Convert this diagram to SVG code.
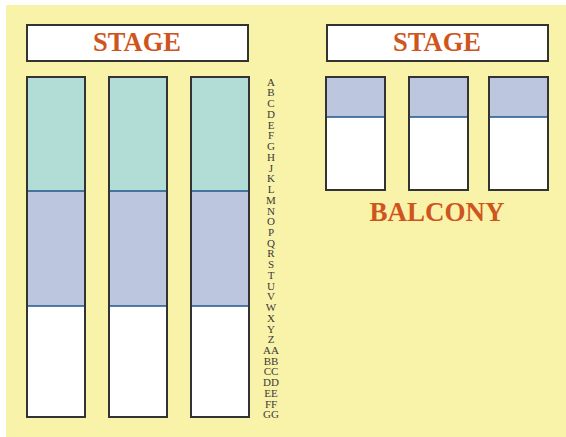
<svg xmlns="http://www.w3.org/2000/svg" width="566" height="437" viewBox="0 0 566 437">
<style>
.stage{fill:#fff;stroke:#333;stroke-width:2}
.title{font-family:"Liberation Serif",serif;font-weight:bold;fill:#cf5520;text-anchor:middle}
.teal{fill:#b1ddd6}
.blue{fill:#bcc6df}
.div{stroke:#1f568a;stroke-width:1.5}
.row{font-family:"Liberation Serif",serif;font-size:11px;fill:#3a3a3a;text-anchor:middle}
</style>
<rect x="6" y="5" width="560" height="432" fill="#f9f2a9"/>
<g id="stage-main">
<rect class="stage" x="27" y="25" width="221" height="36"/>
<text class="title" x="137" y="51" font-size="26.5">STAGE</text>
</g>
<g id="stage-balcony">
<rect class="stage" x="327" y="25" width="221" height="36"/>
<text class="title" x="437" y="51" font-size="26.5">STAGE</text>
</g>
<g id="orch-1">
<rect class="teal" x="27" y="77" width="58" height="114"/>
<rect class="blue" x="27" y="191" width="58" height="115"/>
<rect x="27" y="306" width="58" height="111" fill="#fff"/>
<line class="div" x1="27" y1="191" x2="85" y2="191"/>
<line class="div" x1="27" y1="306" x2="85" y2="306"/>
<rect x="27" y="77" width="58" height="340" fill="none" stroke="#333" stroke-width="2"/>
</g>
<g id="orch-2">
<rect class="teal" x="109" y="77" width="58" height="114"/>
<rect class="blue" x="109" y="191" width="58" height="115"/>
<rect x="109" y="306" width="58" height="111" fill="#fff"/>
<line class="div" x1="109" y1="191" x2="167" y2="191"/>
<line class="div" x1="109" y1="306" x2="167" y2="306"/>
<rect x="109" y="77" width="58" height="340" fill="none" stroke="#333" stroke-width="2"/>
</g>
<g id="orch-3">
<rect class="teal" x="191" y="77" width="58" height="114"/>
<rect class="blue" x="191" y="191" width="58" height="115"/>
<rect x="191" y="306" width="58" height="111" fill="#fff"/>
<line class="div" x1="191" y1="191" x2="249" y2="191"/>
<line class="div" x1="191" y1="306" x2="249" y2="306"/>
<rect x="191" y="77" width="58" height="340" fill="none" stroke="#333" stroke-width="2"/>
</g>
<g id="balc-1">
<rect class="blue" x="326" y="77" width="59" height="40"/>
<rect x="326" y="117" width="59" height="73" fill="#fff"/>
<line class="div" x1="326" y1="117" x2="385" y2="117"/>
<rect x="326" y="77" width="59" height="113" fill="none" stroke="#333" stroke-width="2"/>
</g>
<g id="balc-2">
<rect class="blue" x="409" y="77" width="59" height="40"/>
<rect x="409" y="117" width="59" height="73" fill="#fff"/>
<line class="div" x1="409" y1="117" x2="468" y2="117"/>
<rect x="409" y="77" width="59" height="113" fill="none" stroke="#333" stroke-width="2"/>
</g>
<g id="balc-3">
<rect class="blue" x="489" y="77" width="59" height="40"/>
<rect x="489" y="117" width="59" height="73" fill="#fff"/>
<line class="div" x1="489" y1="117" x2="548" y2="117"/>
<rect x="489" y="77" width="59" height="113" fill="none" stroke="#333" stroke-width="2"/>
</g>
<g id="balcony-label">
<text class="title" x="437" y="221" font-size="27">BALCONY</text>
</g>
<g id="rows" class="row">
<text x="271" y="85.7">A</text>
<text x="271" y="96.4">B</text>
<text x="271" y="107.2">C</text>
<text x="271" y="117.9">D</text>
<text x="271" y="128.6">E</text>
<text x="271" y="139.4">F</text>
<text x="271" y="150.1">G</text>
<text x="271" y="160.8">H</text>
<text x="271" y="171.5">J</text>
<text x="271" y="182.3">K</text>
<text x="271" y="193.0">L</text>
<text x="271" y="203.7">M</text>
<text x="271" y="214.5">N</text>
<text x="271" y="225.2">O</text>
<text x="271" y="235.9">P</text>
<text x="271" y="246.7">Q</text>
<text x="271" y="257.4">R</text>
<text x="271" y="268.1">S</text>
<text x="271" y="278.8">T</text>
<text x="271" y="289.6">U</text>
<text x="271" y="300.3">V</text>
<text x="271" y="311.0">W</text>
<text x="271" y="321.8">X</text>
<text x="271" y="332.5">Y</text>
<text x="271" y="343.2">Z</text>
<text x="271" y="354.0">AA</text>
<text x="271" y="364.7">BB</text>
<text x="271" y="375.4">CC</text>
<text x="271" y="386.1">DD</text>
<text x="271" y="396.9">EE</text>
<text x="271" y="407.6">FF</text>
<text x="271" y="418.3">GG</text>
</g>
</svg>
